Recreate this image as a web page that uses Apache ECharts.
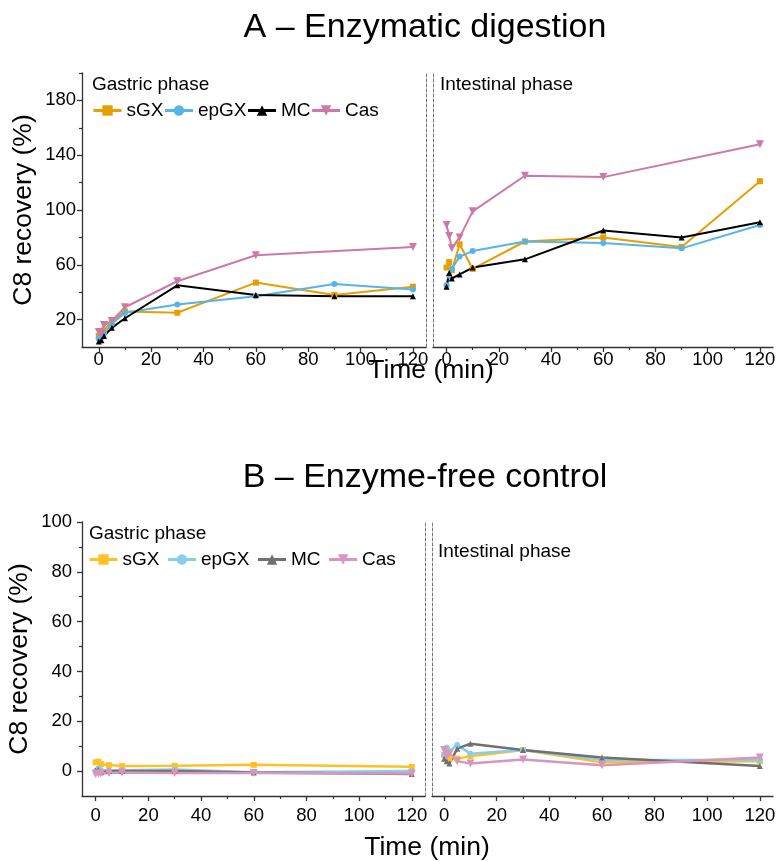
<!DOCTYPE html>
<html>
<head>
<meta charset="utf-8">
<title>C8 recovery</title>
<script src="https://cdn.jsdelivr.net/npm/echarts@6/dist/echarts.min.js"></script>
<style>
  html, body { margin: 0; padding: 0; background: #fff; }
  #chart { width: 779px; height: 861px; }
</style>
</head>
<body>
<div id="chart"></div>
<script>
// sampling times (min)
const timesA = [0, 1, 2, 5, 10, 30, 60, 90, 120];
const timesB = [0, 1, 2, 5, 10, 30, 60, 120];

// tick values
const xTicks = [0, 20, 40, 60, 80, 100, 120];
const xMinorTicks = [10, 30, 50, 70, 90, 110];
const yTicksA = [20, 60, 100, 140, 180];
const yMinorA = [40, 80, 120, 160, 200];
const yTicksB = [0, 20, 40, 60, 80, 100];
const yMinorB = [10, 30, 50, 70, 90];

const seriesNames = ["sGX", "epGX", "MC", "Cas"];

// A - enzymatic digestion, gastric phase (Cas has no 90 min point)
const sgxGastricA = [8, 9, 12, 19, 26, 25, 47, 38, 44];
const epgxGastricA = [6, 7, 10, 17, 25, 31, 37, 46, 42];
const mcGastricA = [4, 5, 8, 14, 21, 45, 38, 37, 37];
const casGastricA = [11, 10, 16, 19, 29, 48, 67, null, 73];

// A - enzymatic digestion, intestinal phase
const sgxIntestA = [58, 62, 56, 75, 57, 77, 80, 73, 121];
const epgxIntestA = [45, 52, 57, 66, 70, 77, 76, 72, 89];
const mcIntestA = [44, 54, 50, 53, 58, 64, 85, 80, 91];
const casIntestA = [89, 81, 72, 80, 99, 125, 124, null, 148];

// B - enzyme-free control, gastric phase
const sgxGastricB = [3.5, 3.8, 2.8, 2.4, 2.0, 2.1, 2.5, 1.7];
const epgxGastricB = [0, 1.0, 0.3, 0.2, 0.3, 0.6, -0.5, 0];
const mcGastricB = [0.2, 0.5, -0.5, 0, 0, 0, -0.6, -1.2];
const casGastricB = [-1.2, -1.0, -1.0, -0.8, -0.6, -0.8, -0.8, -1.0];

// B - enzyme-free control, intestinal phase
const sgxIntestB = [6.5, 5.5, 5, 5, 6, 8.5, 3.5, 4];
const epgxIntestB = [6.5, 9.5, 8, 10.5, 7, 8.5, 4.5, 4.5];
const mcIntestB = [5, 4, 3, 9, 11, 8.5, 5.5, 2];
const casIntestB = [8.5, 6, 7, 4, 3, 4.7, 2.3, 5.5];

const colorsA = ["#E69F00", "#56B4E9", "#000000", "#CC79A7"];
const colorsB = ["#FFC125", "#87CEEB", "#707070", "#D895BE"];
const symbols = ["rect", "circle", "triangle", "path://M0,0L10,0L5,9Z"];
const FONT = "Liberation Sans, Arial, sans-serif";

const panels = [
  { grid: { left: 82, top: 73, width: 344, height: 274 }, xMin: -6.4, yMin: 0, yMax: 200,
    yTicks: yTicksA, yMinor: yMinorA, left: true, colors: colorsA, xMargin: 3, yMargin: 6, nameGap: 45,
    times: timesA, data: [sgxGastricA, epgxGastricA, mcGastricA, casGastricA] },
  { grid: { left: 433, top: 73, width: 340, height: 274 }, xMin: -5.2, yMin: 0, yMax: 200,
    left: false, colors: colorsA, xMargin: 3,
    times: timesA, data: [sgxIntestA, epgxIntestA, mcIntestA, casIntestA] },
  { grid: { left: 82, top: 522, width: 343, height: 274 }, xMin: -5.2, yMin: -10, yMax: 100,
    yTicks: yTicksB, yMinor: yMinorB, left: true, colors: colorsB, xMargin: 10, yMargin: 10, nameGap: 49,
    times: timesB, data: [sgxGastricB, epgxGastricB, mcGastricB, casGastricB] },
  { grid: { left: 432, top: 522, width: 341, height: 274 }, xMin: -4.6, yMin: -10, yMax: 100,
    left: false, colors: colorsB, xMargin: 10,
    times: timesB, data: [sgxIntestB, epgxIntestB, mcIntestB, casIntestB] }
];

const axisColor = "#333";
const grid = [], xAxis = [], yAxis = [], series = [];

panels.forEach((p, g) => {
  grid.push(p.grid);
  const xMain = xAxis.length;
  xAxis.push({
    gridIndex: g, type: "value", min: p.xMin, max: 125, position: "bottom",
    axisLine: { show: true, onZero: false, lineStyle: { color: axisColor, width: 1.3 } },
    axisTick: { show: true, customValues: xTicks, length: 5, lineStyle: { color: axisColor, width: 1.3 } },
    axisLabel: { customValues: xTicks, margin: p.xMargin, fontSize: 18.5, color: "#000", fontFamily: FONT },
    splitLine: { show: false }
  });
  xAxis.push({
    gridIndex: g, type: "value", min: p.xMin, max: 125, position: "bottom",
    axisLine: { show: false, onZero: false },
    axisTick: { show: true, customValues: xMinorTicks, length: 3, lineStyle: { color: axisColor, width: 1.2 } },
    axisLabel: { show: false }, splitLine: { show: false }
  });

  const yMain = yAxis.length;
  if (p.left) {
    yAxis.push({
      gridIndex: g, type: "value", min: p.yMin, max: p.yMax, position: "left",
      name: "C8 recovery (%)", nameLocation: "middle", nameGap: p.nameGap,
      nameTextStyle: { fontSize: 26.5, color: "#000", fontFamily: FONT },
      axisLine: { show: true, onZero: false, lineStyle: { color: axisColor, width: 1.3 } },
      axisTick: { show: true, customValues: p.yTicks, length: 5, lineStyle: { color: axisColor, width: 1.3 } },
      axisLabel: { customValues: p.yTicks, margin: p.yMargin, fontSize: 18.5, color: "#000", fontFamily: FONT },
      splitLine: { show: false }
    });
    yAxis.push({
      gridIndex: g, type: "value", min: p.yMin, max: p.yMax, position: "left",
      axisLine: { show: false, onZero: false },
      axisTick: { show: true, customValues: p.yMinor, length: 3, lineStyle: { color: axisColor, width: 1.2 } },
      axisLabel: { show: false }, splitLine: { show: false }
    });
    // dashed separator on the right edge of the gastric panel
    yAxis.push({
      gridIndex: g, type: "value", min: p.yMin, max: p.yMax, position: "right",
      axisLine: { show: true, onZero: false, lineStyle: { color: "#777", width: 1, type: [3, 2] } },
      axisTick: { show: false }, axisLabel: { show: false }, splitLine: { show: false }
    });
  } else {
    yAxis.push({
      gridIndex: g, type: "value", min: p.yMin, max: p.yMax, position: "left",
      axisLine: { show: true, onZero: false, lineStyle: { color: "#777", width: 1, type: [3, 2] } },
      axisTick: { show: false }, axisLabel: { show: false }, splitLine: { show: false }
    });
  }

  p.data.forEach((arr, s) => {
    series.push({
      name: seriesNames[s], type: "line",
      xAxisIndex: xMain, yAxisIndex: yMain,
      data: p.times.map((t, k) => [t, arr[k]]),
      connectNulls: true,
      symbol: symbols[s], symbolSize: s === 3 ? 8 : 6,
      color: p.colors[s],
      lineStyle: { width: g < 2 ? 2 : 2.5 },
      emphasis: { disabled: true }
    });
  });
});

const legendBase = {
  orient: "horizontal", itemWidth: 28, itemHeight: 13, selectedMode: false, padding: 0,
  textStyle: { fontSize: 19, color: "#000", fontFamily: FONT }
};
const legend = [
  Object.assign({}, legendBase, {
    left: 92, top: 101, itemGap: 0,
    data: seriesNames.map((n, i) => ({ name: n, itemStyle: { color: colorsA[i] }, lineStyle: { color: colorsA[i], width: 3 } }))
  }),
  Object.assign({}, legendBase, {
    left: 88, top: 550, itemGap: 7,
    data: seriesNames.map((n, i) => ({ name: n, itemStyle: { color: colorsB[i] }, lineStyle: { color: colorsB[i], width: 3 } }))
  })
];

function label(text, x, y, size, align) {
  return {
    type: "text", x: x, y: y, silent: true,
    style: { text: text, fill: "#000", font: size + "px " + FONT, align: align || "left", verticalAlign: "middle" }
  };
}

const graphic = [
  label("A \u2013 Enzymatic digestion", 425, 28, 34, "center"),
  label("B \u2013 Enzyme-free control", 425, 478, 34, "center"),
  label("Gastric phase", 92, 85, 19),
  label("Intestinal phase", 440, 85, 19),
  label("Gastric phase", 89, 534, 19),
  label("Intestinal phase", 438, 552, 19),
  label("Time (min)", 431, 371, 26.5, "center"),
  label("Time (min)", 427, 848, 26.5, "center")
];

const chart = echarts.init(document.getElementById("chart"));
chart.setOption({
  animation: false,
  backgroundColor: "#fff",
  textStyle: { fontFamily: FONT },
  grid: grid,
  xAxis: xAxis,
  yAxis: yAxis,
  legend: legend,
  graphic: graphic,
  series: series
});
</script>
</body>
</html>
